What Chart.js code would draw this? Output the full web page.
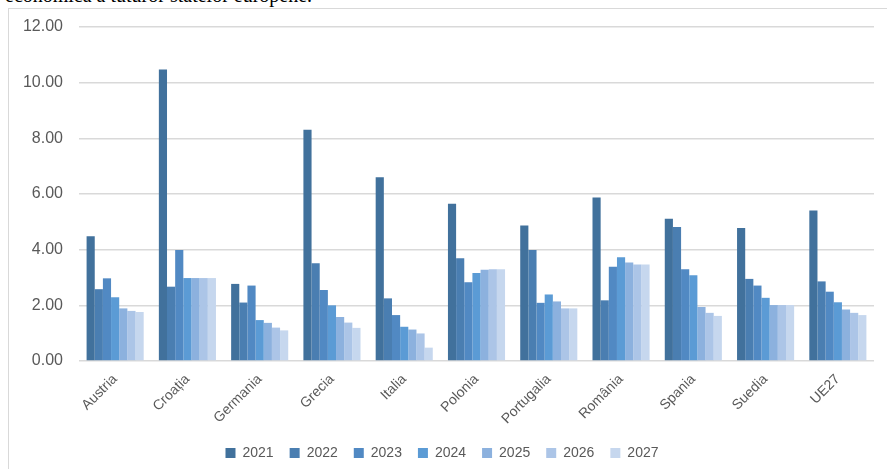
<!DOCTYPE html>
<html>
<head>
<meta charset="utf-8">
<script src="https://cdn.jsdelivr.net/npm/chart.js@4"></script>
<style>
    html, body { margin: 0; padding: 0; background: #ffffff; overflow: hidden; }
    body { width: 887px; height: 469px; position: relative; }
    #top-text {
        position: absolute; left: 5px; top: -15px;
        font-family: 'Liberation Serif', serif; font-size: 20px; line-height: 20px;
        color: #000000; white-space: nowrap;
    }
    #frame {
        position: absolute; left: 8px; top: 8px; width: 879px; height: 461px;
        border-left: 1.5px solid #d9d9d9; border-top: 1.5px solid #d9d9d9;
        box-sizing: border-box; background: #ffffff;
    }
    #chart-box { position: absolute; left: 1px; top: 1px; width: 878px; height: 460px; }
</style>
</head>
<body>
<div id="top-text">economică a tuturor statelor europene.</div>
<div id="frame">
    <div id="chart-box"><canvas id="chart"></canvas></div>
</div>
<script>
// categorii (țări) și ani
const tari = ['Austria', 'Croația', 'Germania', 'Grecia', 'Italia', 'Polonia', 'Portugalia', 'România', 'Spania', 'Suedia', 'UE27'];
const ani = ['2021', '2022', '2023', '2024', '2025', '2026', '2027'];
const yTicks = [0, 2, 4, 6, 8, 10, 12];

// valori, câte o listă pe an
const v2021 = [4.48, 10.47, 2.77, 8.31, 6.60, 5.65, 4.87, 5.87, 5.11, 4.78, 5.41];
const v2022 = [2.58, 2.67, 2.10, 3.51, 2.25, 3.69, 3.99, 2.18, 4.81, 2.95, 2.86];
const v2023 = [2.97, 3.99, 2.71, 2.55, 1.65, 2.83, 2.09, 3.39, 3.30, 2.71, 2.49];
const v2024 = [2.29, 2.98, 1.47, 2.00, 1.23, 3.16, 2.39, 3.73, 3.08, 2.27, 2.11];
const v2025 = [1.89, 2.98, 1.37, 1.58, 1.13, 3.28, 2.14, 3.54, 1.94, 2.01, 1.85];
const v2026 = [1.80, 2.98, 1.20, 1.38, 0.99, 3.30, 1.89, 3.47, 1.73, 2.01, 1.73];
const v2027 = [1.76, 2.98, 1.10, 1.19, 0.48, 3.30, 1.89, 3.47, 1.62, 2.01, 1.65];

const serii = [v2021, v2022, v2023, v2024, v2025, v2026, v2027];
const culori = ['#41719c', '#4a7eb1', '#5189c3', '#5b9bd5', '#8cb1de', '#acc5e7', '#c6d7ee'];

const textColor = '#595959';
const gridColor = '#d9d9d9';

new Chart(document.getElementById('chart'), {
    type: 'bar',
    data: {
        labels: tari,
        datasets: ani.map((an, i) => ({
            label: an,
            data: serii[i],
            backgroundColor: culori[i],
            borderWidth: 0,
            categoryPercentage: 0.79,
            barPercentage: 1.0
        }))
    },
    options: {
        responsive: true,
        maintainAspectRatio: false,
        animation: false,
        layout: {
            padding: { top: 17, right: 14, bottom: 0, left: 0 }
        },
        plugins: {
            legend: {
                position: 'bottom',
                labels: {
                    color: textColor,
                    boxWidth: 10,
                    boxHeight: 10,
                    padding: 16,
                    font: { family: 'Liberation Sans', size: 14 }
                }
            },
            tooltip: { enabled: false }
        },
        scales: {
            x: {
                grid: { display: false },
                border: { display: false },
                ticks: {
                    color: textColor,
                    minRotation: 45,
                    maxRotation: 45,
                    padding: 2,
                    font: { family: 'Liberation Sans', size: 14 }
                },
                afterFit: function(scale) { scale.height = 69; }
            },
            y: {
                min: 0,
                max: 12,
                afterBuildTicks: function(scale) {
                    scale.ticks = yTicks.map(v => ({ value: v }));
                },
                grid: { color: gridColor, lineWidth: 1.5, drawTicks: false },
                border: { display: false },
                ticks: {
                    color: textColor,
                    padding: 16,
                    font: { family: 'Liberation Sans', size: 16 },
                    callback: function(value) { return Number(value).toFixed(2); }
                },
                afterFit: function(scale) {
                    scale.width = 69;
                    scale.paddingTop = 0;
                    scale.paddingBottom = 0;
                }
            }
        }
    }
});
</script>
</body>
</html>
